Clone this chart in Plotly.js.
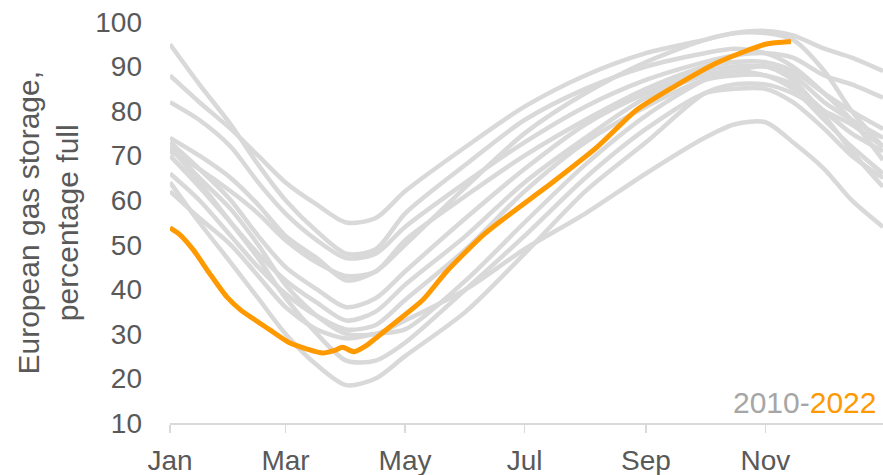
<!DOCTYPE html>
<html>
<head>
<meta charset="utf-8">
<script src="https://cdn.plot.ly/plotly-3.0.1.min.js"></script>
<style>html,body{margin:0;padding:0;background:#fff;}#chart{width:883px;height:475px;}</style>
</head>
<body>
<div id="chart"></div>
<script>
// Day of year (0 = 1 Jan) at which gray (historical) series are sampled
const histDays = [0, 15, 31, 45, 59, 75, 90, 105, 120, 151, 181, 212, 243, 273, 288, 304, 318, 334, 348, 364];

// Historical years 2010-2021, storage % full
const histA = [88, 82, 76, 70, 64, 59, 55, 56, 62, 72, 81, 88, 93, 96, 97.5, 97.5, 96, 89, 80, 72];
const histB = [74, 70, 65, 59, 52, 47, 42, 44, 50, 63, 75, 84, 91, 96, 97.5, 98, 97, 94, 92, 89];
const histC = [95, 86, 77, 68, 60, 53, 48, 49, 57, 68, 78, 85, 90, 93, 94, 93, 90, 84, 78, 69];
const histD = [82, 78, 72, 64, 57, 51, 47, 48, 54, 64, 73, 81, 87, 91, 92.5, 93, 92, 88, 86, 83];
const histE = [71, 67, 62, 57, 51, 46, 43, 44, 51, 61, 70, 78, 85, 90, 91, 91, 89, 84, 80, 76];
const histF = [73, 67, 60, 52, 45, 40, 36, 38, 44, 56, 67, 77, 84, 89, 90, 90, 88, 82, 78, 74];
const histG = [70, 63, 55, 48, 42, 37, 33, 35, 41, 52, 64, 74, 83, 88, 89, 88, 86, 80, 75, 71];
const histH = [66, 60, 52, 45, 39, 34, 31, 32, 37.6, 49, 62, 73, 81, 87, 88, 88, 85, 78, 72, 66];
const histI = [64, 55, 46, 38, 30, 23, 18.5, 20, 25, 35, 48, 62, 73, 84, 86, 86, 84, 80, 77, 72];
const histJ = [72, 64, 55, 47, 38, 30, 24, 24, 28, 40, 52, 65, 76, 84, 85, 85, 82, 76, 70, 65];
const histK = [62, 56, 50, 43, 36, 31, 29, 30, 31, 42, 55, 68, 79, 87, 89, 90, 87, 79, 71, 63];
const histL = [72, 65, 58, 50, 41, 34, 30, 30, 33, 40, 49, 57, 66, 74, 77, 77.5, 73, 67, 60, 54];
const histSeries = [histA, histB, histC, histD, histE, histF, histG, histH, histI, histJ, histK, histL];

// 2022 series
const days2022 = [0, 5, 12, 20, 29, 36, 51, 61, 70, 78, 84, 88, 94, 100, 105, 112, 129, 141, 161, 195, 218, 238, 257, 279, 304, 317];
const vals2022 = [53.8, 52.3, 48.8, 43.7, 38.3, 35.4, 30.9, 28.0, 26.6, 25.7, 26.3, 27.0, 26.0, 27.3, 29.0, 31.5, 37.6, 43.9, 52.6, 63.9, 71.9, 80.2, 85.4, 90.8, 95.0, 95.6];

// Month ticks
const tickDays = [0, 59, 120, 181, 243, 304];
const tickLabels = ['Jan', 'Mar', 'May', 'Jul', 'Sep', 'Nov'];
const yTicks = [10, 20, 30, 40, 50, 60, 70, 80, 90, 100];

const grey = '#D9D9D9';
const orange = '#FF9900';
const textCol = '#595959';
const fontFam = '"Liberation Sans", Arial, sans-serif';

const traces = histSeries.map(v => ({
  x: histDays, y: v, type: 'scatter', mode: 'lines',
  line: {color: grey, width: 4.5, shape: 'spline', smoothing: 0.8},
  hoverinfo: 'skip'
}));
traces.push({
  x: days2022, y: vals2022, type: 'scatter', mode: 'lines',
  line: {color: orange, width: 5, shape: 'spline', smoothing: 0.6}
});

const layout = {
  width: 883, height: 475,
  margin: {l: 170, r: 0, t: 22, b: 52},
  paper_bgcolor: '#ffffff', plot_bgcolor: '#ffffff',
  showlegend: false,
  font: {family: fontFam, color: textCol, size: 28},
  xaxis: {
    range: [0, 364], tickvals: tickDays, ticktext: tickLabels,
    showgrid: false, zeroline: false,
    showline: true, linecolor: grey, linewidth: 2,
    ticks: 'outside', ticklen: 8, tickwidth: 1.5, tickcolor: grey,
    tickfont: {size: 28, color: textCol, family: fontFam},
    ticklabelstandoff: 3
  },
  yaxis: {
    range: [10, 100], tickvals: yTicks,
    showgrid: false, zeroline: false, showline: false,
    ticks: '', tickfont: {size: 28, color: textCol, family: fontFam},
    ticklabelstandoff: 27
  },
  annotations: [
    {
      text: 'European gas storage,<br>percentage full',
      xref: 'paper', yref: 'paper', x: 0, y: 0.5, xshift: -123,
      xanchor: 'center', yanchor: 'middle', textangle: -90, showarrow: false,
      font: {size: 30, color: textCol, family: fontFam}
    },
    {
      text: '<span style="color:#A6A6A6">2010-</span><span style="color:#FF9900">2022</span>',
      xref: 'paper', yref: 'paper', x: 1, y: 0.05, xshift: -5,
      xanchor: 'right', yanchor: 'middle', showarrow: false,
      font: {size: 30, family: fontFam}
    }
  ]
};

Plotly.newPlot('chart', traces, layout, {displayModeBar: false, staticPlot: true});
</script>
</body>
</html>
